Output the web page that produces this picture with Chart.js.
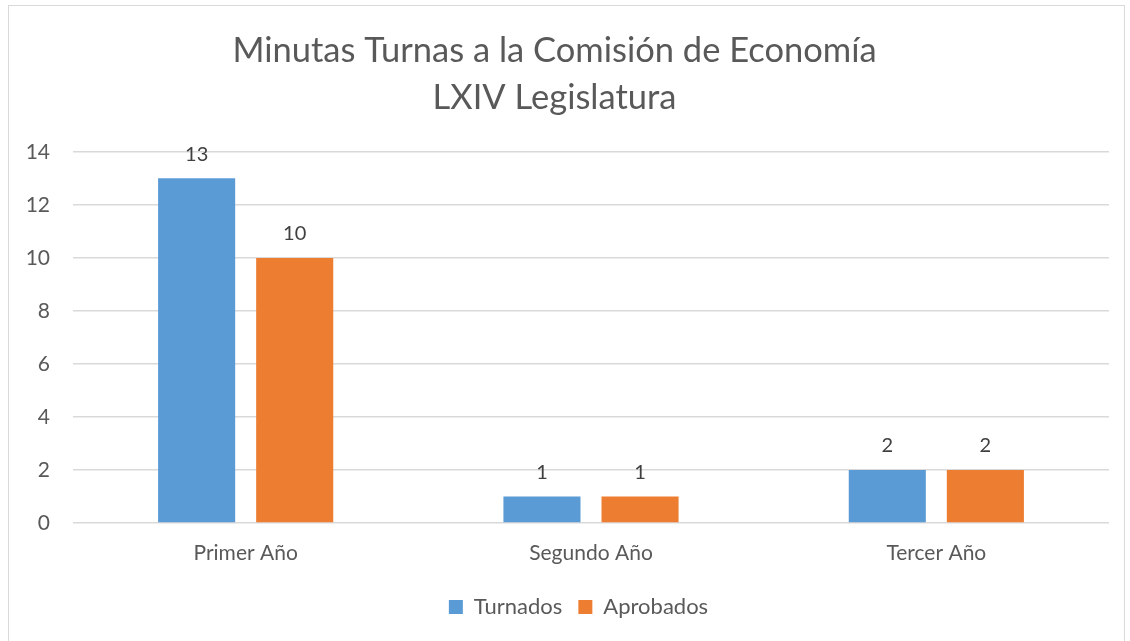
<!DOCTYPE html>
<html>
<head>
<meta charset="utf-8">
<script src="https://cdn.jsdelivr.net/npm/chart.js@4/dist/chart.umd.min.js"></script>
<style>
  html, body { margin: 0; padding: 0; background: #fff; }
  #wrap { width: 1130px; height: 641px; }
</style>
</head>
<body>
<div id="wrap"><canvas id="c" width="1130" height="641"></canvas></div>
<script>
const categories = ["Primer Año", "Segundo Año", "Tercer Año"];
const turnados = [13, 1, 2];
const aprobados = [10, 1, 2];
const titleLines = ["Minutas Turnas a la Comisión de Economía", "LXIV Legislatura"];

const FONT = "Lato, 'Open Sans', sans-serif";

// marco gris y fondo blanco
const frame = {
  id: "frame",
  beforeDraw(chart) {
    const ctx = chart.ctx;
    ctx.save();
    ctx.fillStyle = "#fff";
    ctx.fillRect(0, 0, chart.width, chart.height);
    ctx.strokeStyle = "#d9d9d9";
    ctx.lineWidth = 1;
    ctx.strokeRect(8.5, 5.5, 1116, 700);
    ctx.restore();
  }
};

// la leyenda va centrada un poco más a la derecha
const legendShift = {
  id: "legendShift",
  afterLayout(chart) {
    chart.legend.left += 24;
    chart.legend.right += 24;
  }
};

// etiquetas de valor encima de cada barra
const valueLabels = {
  id: "valueLabels",
  afterDatasetsDraw(chart) {
    const ctx = chart.ctx;
    ctx.save();
    ctx.font = "20px " + FONT;
    ctx.fillStyle = "#404040";
    ctx.textAlign = "center";
    ctx.textBaseline = "middle";
    chart.data.datasets.forEach((ds, i) => {
      chart.getDatasetMeta(i).data.forEach((bar, j) => {
        ctx.fillText(ds.data[j], bar.x, bar.y - 24);
      });
    });
    ctx.restore();
  }
};

new Chart(document.getElementById("c"), {
  type: "bar",
  data: {
    labels: categories,
    datasets: [
      { label: "Turnados", data: turnados, backgroundColor: "#5B9BD5" },
      { label: "Aprobados", data: aprobados, backgroundColor: "#ED7D31" }
    ]
  },
  options: {
    responsive: false,
    animation: false,
    layout: { padding: { left: 0, right: 21, top: 14, bottom: 13 } },
    categoryPercentage: 0.568,
    barPercentage: 0.786,
    scales: {
      x: {
        afterFit(scale) { scale.height = 57; },
        grid: { display: false, drawTicks: false },
        border: { display: false },
        ticks: { color: "#595959", font: { family: FONT, size: 21 }, padding: 18 }
      },
      y: {
        min: 0, max: 14,
        afterFit(scale) { scale.width = 73; },
        grid: { color: "#d9d9d9", lineWidth: 1.5, drawTicks: false },
        border: { display: false },
        ticks: { stepSize: 2, color: "#595959", font: { family: FONT, size: 21 }, padding: 23 }
      }
    },
    plugins: {
      title: {
        display: true,
        text: titleLines,
        color: "#595959",
        font: { family: FONT, size: 34.5, weight: "normal", lineHeight: 1.36 },
        padding: { top: 13, bottom: 31 }
      },
      legend: {
        position: "bottom",
        labels: {
          color: "#595959",
          font: { family: FONT, size: 22 },
          boxWidth: 14, boxHeight: 14,
          padding: 16
        }
      },
      tooltip: { enabled: false }
    }
  },
  plugins: [frame, legendShift, valueLabels]
});
</script>
</body>
</html>
